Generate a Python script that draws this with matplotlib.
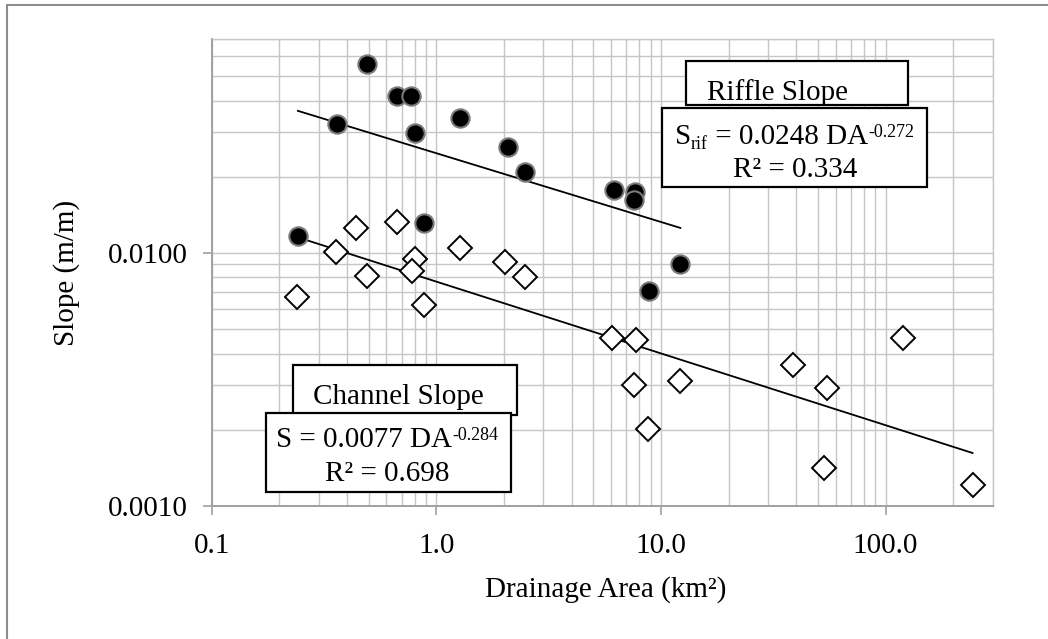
import numpy as np
import matplotlib
matplotlib.use("Agg")
import matplotlib.pyplot as plt
from matplotlib.patches import Rectangle
from matplotlib.ticker import FixedLocator, FixedFormatter, NullFormatter

# ---------------- data ----------------
riffle_da = [0.49, 0.67, 0.77, 0.36, 0.80, 1.27, 2.08, 2.49, 6.17, 7.7, 7.57,
             0.242, 0.884, 12.2, 8.87]
riffle_slope = [0.0561, 0.0419, 0.0417, 0.0325, 0.0298, 0.0343, 0.0262, 0.0209,
                0.0177, 0.0174, 0.0162, 0.01165, 0.0131, 0.0090, 0.0071]

channel_da = [0.439, 0.668, 1.27, 0.358, 0.80, 0.239, 0.491, 0.78, 0.878, 2.03,
              2.47, 6.07, 7.78, 7.57, 8.77, 12.1, 38.7, 54.7, 53.2, 119.7, 244]
channel_slope = [0.0125, 0.0133, 0.01047, 0.01004, 0.00944, 0.0067, 0.0081,
                 0.0085, 0.0062, 0.0092, 0.0080, 0.0046, 0.00452, 0.0030,
                 0.00201, 0.00311, 0.0036, 0.00291, 0.00141, 0.0046, 0.00121]

riffle_coef, riffle_exp, riffle_r2 = 0.0248, -0.272, 0.334
channel_coef, channel_exp, channel_r2 = 0.0077, -0.284, 0.698

x_ticks = [0.1, 1.0, 10.0, 100.0]
x_tick_labels = ["0.1", "1.0", "10.0", "100.0"]
y_ticks = [0.001, 0.01]
y_tick_labels = ["0.0010", "0.0100"]

# ---------------- style ----------------
plt.rcParams['font.family'] = ['Liberation Serif', 'DejaVu Serif']
FS = 21
GRID = '#c6c6c6'
AXC = '#a0a0a0'

W, H = 1048, 639
fig = plt.figure(figsize=(W / 100, H / 100), dpi=100)
fig.patch.set_facecolor('white')

L, R, T, B = 211.7, 992.7, 39.3, 505.7
ax = fig.add_axes([L / W, 1 - B / H, (R - L) / W, (B - T) / H])
ax.set_xscale('log')
ax.set_yscale('log')
ax.set_xlim(0.1, 300)
ax.set_ylim(0.001, 0.07)

ax.xaxis.set_major_locator(FixedLocator(x_ticks))
ax.xaxis.set_major_formatter(FixedFormatter(x_tick_labels))
ax.yaxis.set_major_locator(FixedLocator(y_ticks))
ax.yaxis.set_major_formatter(FixedFormatter(y_tick_labels))
ax.xaxis.set_minor_formatter(NullFormatter())
ax.yaxis.set_minor_formatter(NullFormatter())

ax.grid(True, which='both', color=GRID, linewidth=1.0)
ax.set_axisbelow(True)
ax.tick_params(which='major', length=6.3, width=1.2, color=AXC, labelsize=FS, pad=11)
ax.tick_params(axis='x', which='major', pad=13)
ax.tick_params(which='minor', length=0)
for s in ['left', 'bottom']:
    ax.spines[s].set_color(AXC)
    ax.spines[s].set_linewidth(1.4)
for s in ['top', 'right']:
    ax.spines[s].set_color(GRID)
    ax.spines[s].set_linewidth(1.0)

# trendlines
xr = np.geomspace(min(riffle_da), max(riffle_da), 100)
ax.plot(xr, riffle_coef * xr ** riffle_exp, color='black', lw=1.3, zorder=3)
xc = np.geomspace(min(channel_da), max(channel_da), 100)
ax.plot(xc, channel_coef * xc ** channel_exp, color='black', lw=1.3, zorder=3)

# points
ax.plot(channel_da, channel_slope, linestyle='none', marker='D', markersize=11.8,
        markerfacecolor='white', markeredgecolor='black', markeredgewidth=1.4, zorder=4)
ax.plot(riffle_da, riffle_slope, linestyle='none', marker='o', markersize=13.2,
        markerfacecolor='black', markeredgecolor='#7a7a7a', markeredgewidth=1.5, zorder=5)

# axis titles
fig.text(67 / W, 1 - 272.5 / H, 'Slope (m/m)', rotation=90, ha='center', va='center', fontsize=FS)
fig.text(606 / W, 1 - 590 / H, 'Drainage Area (km²)', ha='center', va='center', fontsize=FS)

# outer chart border
fig.add_artist(Rectangle((7.3 / W, -0.1), 2.0, 1 - 5.3 / H + 0.1, transform=fig.transFigure,
                         fill=False, edgecolor='#8c8c8c', linewidth=1.5))


def box(x0, y0, x1, y1):
    fig.add_artist(Rectangle((x0 / W, 1 - y1 / H), (x1 - x0) / W, (y1 - y0) / H,
                             transform=fig.transFigure, facecolor='white',
                             edgecolor='black', linewidth=1.6, zorder=10))


renderer = fig.canvas.get_renderer()


def rich_line(xc_px, base_px, pieces):
    """pieces: list of (text, size, dy_px) ; laid out left-to-right, centered at xc_px"""
    texts = []
    x = 0.0
    for s, size, dy in pieces:
        t = fig.text(0, 0, s, fontsize=size, ha='left', va='baseline', zorder=11)
        w = t.get_window_extent(renderer).width
        texts.append((t, x, dy))
        x += w
    x0 = xc_px - x / 2
    for t, off, dy in texts:
        t.set_position(((x0 + off) / W, 1 - (base_px - dy) / H))


SUB = 13
# Riffle boxes
box(685.7, 60.7, 908.3, 105)
fig.text(706.7 / W, 1 - 100 / H, 'Riffle Slope', fontsize=FS, ha='left', va='baseline', zorder=11)
box(662.3, 107.7, 927.3, 186.7)
rich_line(794.5, 144, [('S', FS, 0), ('rif', SUB, -5),
                       (' = {:.4f} DA'.format(riffle_coef), FS, 0),
                       ('{:.3f}'.format(riffle_exp), SUB, 7)])
rich_line(794.8, 176.7, [('R² = {:.3f}'.format(riffle_r2), FS, 0)])

# Channel boxes
box(293.3, 365, 516.7, 415)
fig.text(312.7 / W, 1 - 404 / H, 'Channel Slope', fontsize=FS, ha='left', va='baseline', zorder=11)
box(265.7, 413.3, 511, 491.7)
rich_line(387.5, 447.3, [('S = {:.4f} DA'.format(channel_coef), FS, 0),
                         ('{:.3f}'.format(channel_exp), SUB, 7)])
rich_line(387, 480.7, [('R² = {:.3f}'.format(channel_r2), FS, 0)])

fig.savefig('out.png', dpi=100, facecolor='white')
